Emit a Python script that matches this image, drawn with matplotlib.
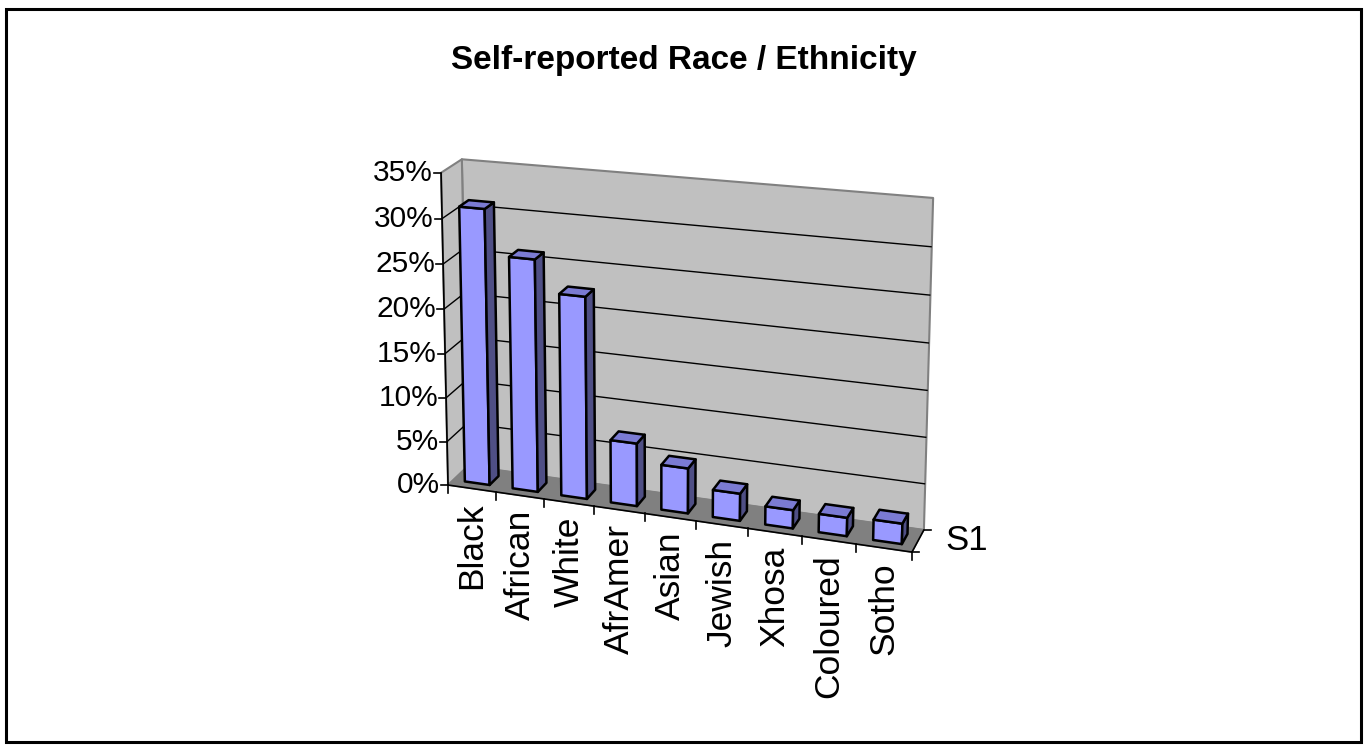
import numpy as np
import matplotlib.pyplot as plt
from matplotlib.patches import Polygon, Rectangle

# survey results, share of respondents (%)
categories = ['Black', 'African', 'White', 'AfrAmer', 'Asian', 'Jewish',
              'Xhosa', 'Coloured', 'Sotho']
shares = [31.0, 26.0, 22.5, 7.0, 5.0, 3.0, 2.0, 2.0, 2.2]
series_name = 'S1'
value_ticks = [0, 5, 10, 15, 20, 25, 30, 35]
title = 'Self-reported Race / Ethnicity'

W, H = 1367, 747
n = len(categories)
vmax = value_ticks[-1]

# corners of the 3-D plot box (category, depth, value) and where they land on the canvas
box_world = [(0, 0, 0), (0, 0, vmax), (0, 1, vmax), (0, 1, 0),
             (n, 1, vmax), (n, 1, 0), (n, 0, 0)]
box_pix = [(450, 484), (439, 173), (464, 159), (466, 467),
           (933, 198), (924, 529), (912, 553)]


def solve_camera(world, pix):
    # plain DLT for a 3x4 perspective camera
    rows = []
    for (X, Y, Z), (u, v) in zip(world, pix):
        X, Z = X / n, Z / vmax
        u, v = u / 1000, v / 1000
        rows.append([X, Y, Z, 1, 0, 0, 0, 0, -u * X, -u * Y, -u * Z, -u])
        rows.append([0, 0, 0, 0, X, Y, Z, 1, -v * X, -v * Y, -v * Z, -v])
    _, _, vt = np.linalg.svd(np.array(rows))
    return vt[-1].reshape(3, 4)


P = solve_camera(box_world, box_pix)


def proj(x, d, v):
    h = P @ np.array([x / n, d, v / vmax, 1.0])
    return h[0] / h[2] * 1000, h[1] / h[2] * 1000


def face(ax, pts, fc, ec, lw, z):
    ax.add_patch(Polygon([proj(*p) for p in pts], closed=True, facecolor=fc,
                         edgecolor=ec, linewidth=lw, joinstyle='round', zorder=z))


def line(ax, pts, color='black', lw=1.0, z=3):
    xy = np.array([proj(*p) for p in pts])
    ax.plot(xy[:, 0], xy[:, 1], color=color, lw=lw, zorder=z, solid_capstyle='butt')


plt.rcParams['font.family'] = ['Liberation Sans', 'DejaVu Sans']

fig = plt.figure(figsize=(W / 100, H / 100), dpi=100)
ax = fig.add_axes([0, 0, 1, 1])
ax.set_xlim(0, W)
ax.set_ylim(H, 0)
ax.axis('off')

# outer chart border
fig.patches.append(Rectangle((6 / W, 5 / H), 1 - 12 / W, 1 - 14 / H, transform=fig.transFigure,
                             fill=False, edgecolor='black', lw=2.2))

# walls and floor
face(ax, [(0, 1, 0), (n, 1, 0), (n, 1, vmax), (0, 1, vmax)], '#c0c0c0', '#808080', 1.5, 1)
face(ax, [(0, 0, 0), (0, 1, 0), (0, 1, vmax), (0, 0, vmax)], '#c0c0c0', '#808080', 1.5, 1)
face(ax, [(0, 0, 0), (n, 0, 0), (n, 1, 0), (0, 1, 0)], '#808080', '#808080', 1.0, 1)

# gridlines
for v in value_ticks[1:-1]:
    line(ax, [(0, 0, v), (0, 1, v), (n, 1, v)], lw=1.0, z=2)

# value axis
line(ax, [(0, 0, 0), (0, 0, vmax)], lw=1.2, z=3)
for v in value_ticks:
    x, y = proj(0, 0, v)
    ax.plot([x - 7, x], [y, y], color='black', lw=1.2, zorder=3)
    ax.text(x - 8, y, f'{v}%', ha='right', va='center', fontsize=21.5,
            family=['Liberation Sans Narrow', 'Liberation Sans', 'DejaVu Sans'])

# category axis
line(ax, [(0, 0, 0), (n, 0, 0)], lw=1.2, z=3)
for i in range(n + 1):
    x, y = proj(i, 0, 0)
    ax.plot([x, x], [y, y + 8], color='black', lw=1.2, zorder=3)
for i, name in enumerate(categories):
    x, y = proj(i + 0.5, 0, 0)
    ax.text(x, y + 14, name, rotation=90, ha='center', va='top', fontsize=25.5)

# series (depth) axis
line(ax, [(n, 0, 0), (n, 1, 0)], lw=1.2, z=3)
for d in (0, 1):
    x, y = proj(n, d, 0)
    ax.plot([x, x + 7], [y, y], color='black', lw=1.2, zorder=3)
x, y = proj(n, 0.5, 0)
ax.text(x + 27, y, series_name, ha='left', va='center', fontsize=25)

# columns, back-left to front-right
x_pad, d0, d1 = 0.24, 0.27, 0.73
for i, val in enumerate(shares):
    a, b = i + x_pad, i + 1 - x_pad
    z = 10 + i
    face(ax, [(a, d0, 0), (b, d0, 0), (b, d0, val), (a, d0, val)], '#9999ff', 'black', 1.8, z)
    face(ax, [(b, d0, 0), (b, d1, 0), (b, d1, val), (b, d0, val)], '#4f4f85', 'black', 1.8, z)
    face(ax, [(a, d0, val), (b, d0, val), (b, d1, val), (a, d1, val)], '#7b7bd3', 'black', 1.8, z)

fig.text(0.5, 1 - 69 / H, title, ha='center', va='baseline', fontsize=24, fontweight='bold')

fig.savefig('out.png', dpi=100)
